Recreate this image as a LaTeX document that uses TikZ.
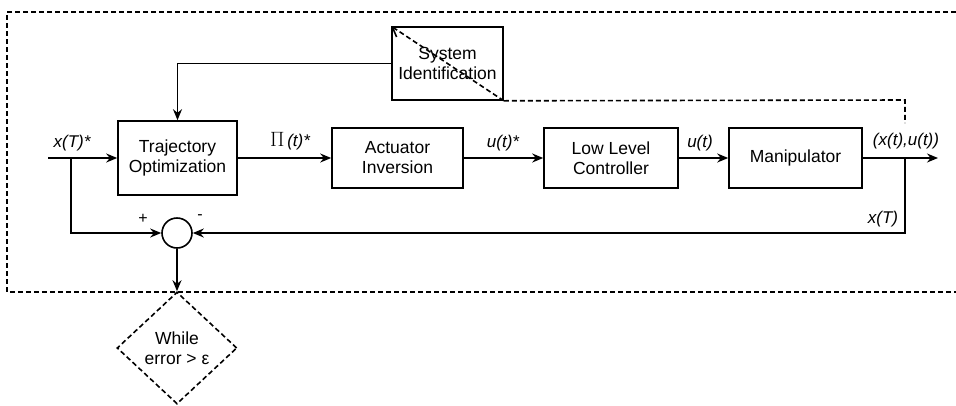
\documentclass[tikz,border=0pt]{standalone}
\usepackage{fontspec}
\setmainfont{Liberation Sans}
\usetikzlibrary{arrows.meta,shapes.geometric}
\begin{document}
\begin{tikzpicture}[x=1pt,y=-1pt,
  every node/.style={font=\fontsize{17.5}{20}\selectfont},
  box/.style={draw, line width=1.6pt, align=center, inner sep=0pt},
  lab/.style={font=\fontsize{17}{19}\selectfont\itshape, inner sep=0pt},
  arr/.style={line width=1.6pt, -{Stealth[length=11pt,width=9pt]}},
  dsh/.style={line width=1.6pt, dash pattern=on 5pt off 3pt}]
\useasboundingbox (0,0) rectangle (956,405);
% outer dashed frame
\draw[dsh] (956,12) -- (7,12) -- (7,292) -- (956,292);
% blocks
\node[box, minimum width=119pt, minimum height=74pt] (traj) at (177.5,158) {Trajectory\\Optimization};
\node[box, minimum width=111pt, minimum height=73pt] (si) at (447.5,63.5) {System\\Identification};
\node[box, minimum width=131pt, minimum height=60pt] (act) at (397.5,158) {Actuator\\Inversion};
\node[box, minimum width=134pt, minimum height=60pt] (llc) at (611,158) {Low Level\\Controller};
\node[box, minimum width=133pt, minimum height=60pt] (man) at (795.5,158) {Manipulator};
\node[draw, circle, line width=1.6pt, minimum size=30pt, inner sep=0pt] (sum) at (177,233) {};
\node[draw, diamond, dsh, minimum width=120pt, minimum height=112pt, inner sep=0pt, align=center] (dia) at (177,348) {While\\error > ε};
% coordinates
\coordinate (xin) at (48,158);
\coordinate (br) at (71,158);
\coordinate (xout) at (938,158);
\coordinate (fb) at (905,158);
\coordinate (dc) at (905,100);
\coordinate (de) at (905,123);
% connectors
\draw[arr] (xin) -- (traj.west);
\draw[arr] (br) |- (sum.west);
\draw[arr] (si.west) -| (traj.north);
\draw[arr] (traj.east) -- (act.west);
\draw[arr] (act.east) -- (llc.west);
\draw[arr] (llc.east) -- (man.west);
\draw[arr] (man.east) -- (xout);
\draw[arr] (fb) |- (sum.east);
\draw[arr] (sum.south) -- (dia.north);
\draw[dsh, -{Straight Barb[length=9pt,width=12pt]}] (si.south east) -- (si.north west);
\draw[dsh] (si.south east) -- (dc) -- (de);
% labels
\node[lab] (l1) at (72,143) {x(T)*};
\node[lab] (l2) at (290,141) {{\fontsize{21}{21}\selectfont$\Pi$}\,(t)*};
\node[lab] (l3) at (503,143) {u(t)*};
\node[lab] (l4) at (700,143) {u(t)};
\node[lab] (l5) at (906,141) {(x(t),u(t))};
\node[lab] (l6) at (883,219) {x(T)};
\node[font=\fontsize{16}{16}\selectfont, inner sep=0pt] (pl) at (143,219) {+};
\node[font=\fontsize{16}{16}\selectfont, inner sep=0pt] (mi) at (200,217) {-};
\end{tikzpicture}
\end{document}
